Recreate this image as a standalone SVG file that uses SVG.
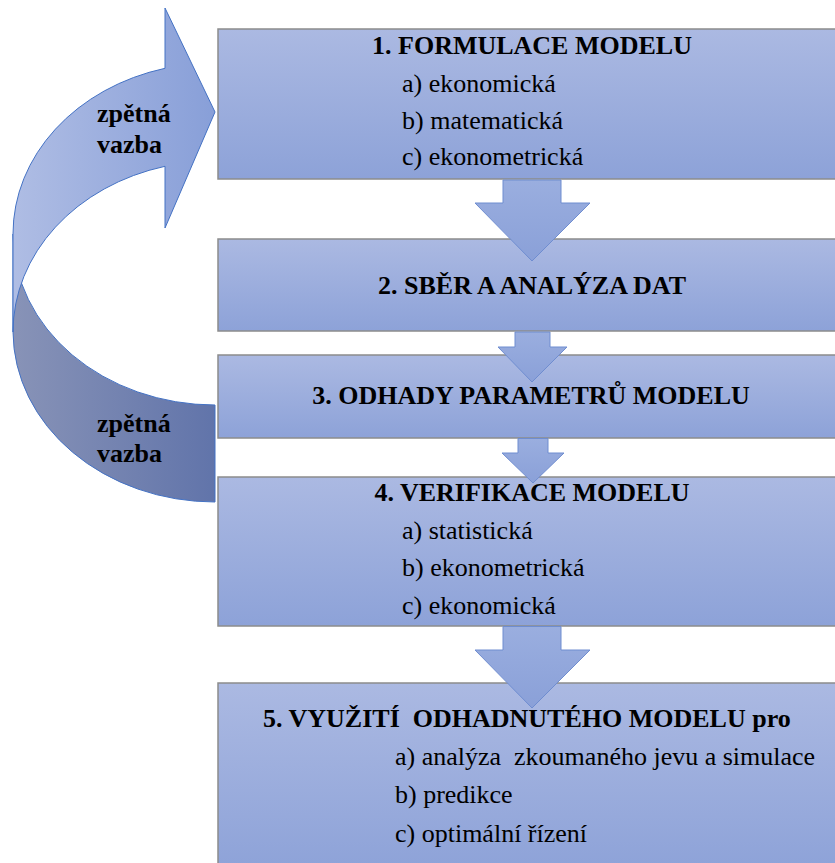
<svg xmlns="http://www.w3.org/2000/svg" width="835" height="863" viewBox="0 0 835 863">
<defs>
  <linearGradient id="gBox" x1="0" y1="0" x2="0" y2="1">
    <stop offset="0" stop-color="#abb9e2"/>
    <stop offset="1" stop-color="#8da2d8"/>
  </linearGradient>
  <linearGradient id="gArrow" x1="0" y1="0" x2="0" y2="1">
    <stop offset="0" stop-color="#9aaedf"/>
    <stop offset="1" stop-color="#8aa0d8"/>
  </linearGradient>
  <linearGradient id="gFront" gradientUnits="userSpaceOnUse" x1="13" y1="0" x2="215" y2="0">
    <stop offset="0" stop-color="#afbde4"/>
    <stop offset="1" stop-color="#889fd8"/>
  </linearGradient>
  <linearGradient id="gBack" gradientUnits="userSpaceOnUse" x1="13" y1="0" x2="215" y2="0">
    <stop offset="0" stop-color="#8893b7"/>
    <stop offset="1" stop-color="#6174aa"/>
  </linearGradient>
  <style>
    .box { fill: url(#gBox); stroke: #8c8c8c; stroke-width: 1.5; }
    .arr { fill: url(#gArrow); stroke: #6f8dd0; stroke-width: 1; }
    text { font-family: 'Liberation Serif', 'Times New Roman', Times, 'Nimbus Roman', Tinos, 'Noto Serif', 'DejaVu Serif', serif; font-size: 26px; fill: #000; }
    .head, .fb { font-weight: bold; }
  </style>
</defs>

<g id="feedback">
  <path d="M13,234 A202,171 0 0,0 215,405 L215,502 A202,171 0 0,1 13,332 Z" fill="url(#gBack)" stroke="#4472c4" stroke-width="1"/>
  <path d="M165,68.3 A202,171 0 0,0 13,234 L13,332 A202,171 0 0,1 165,166.3 L165,228 L215,112 L165,8 Z" fill="url(#gFront)" stroke="#4472c4" stroke-width="1"/>
  <text class="fb" x="97" y="122">zpětná</text>
  <text class="fb" x="97" y="153">vazba</text>
  <text class="fb" x="97" y="432">zpětná</text>
  <text class="fb" x="97" y="462">vazba</text>
</g>

<g id="node1">
  <rect class="box" x="218" y="29" width="630" height="150"/>
  <text class="head" x="532" y="54" text-anchor="middle">1. FORMULACE MODELU</text>
  <text class="item" x="402" y="92">a) ekonomická</text>
  <text class="item" x="402" y="128.5">b) matematická</text>
  <text class="item" x="402" y="165">c) ekonometrická</text>
</g>

<g id="node2">
  <rect class="box" x="218" y="239" width="630" height="92"/>
  <text class="head" x="532" y="294" text-anchor="middle">2. SBĚR A ANALÝZA DAT</text>
</g>

<g id="node3">
  <rect class="box" x="218" y="355" width="630" height="83"/>
  <text class="head" x="531" y="404" text-anchor="middle">3. ODHADY PARAMETRŮ MODELU</text>
</g>

<g id="node4">
  <rect class="box" x="218" y="477" width="630" height="149"/>
  <text class="head" x="532" y="501" text-anchor="middle">4. VERIFIKACE MODELU</text>
  <text class="item" x="402" y="539">a) statistická</text>
  <text class="item" x="402" y="576">b) ekonometrická</text>
  <text class="item" x="402" y="614">c) ekonomická</text>
</g>

<g id="node5">
  <rect class="box" x="218" y="683" width="630" height="190"/>
  <text class="head" x="263" y="727" xml:space="preserve">5. VYUŽITÍ  ODHADNUTÉHO MODELU pro</text>
  <text class="item" x="395" y="765" xml:space="preserve">a) analýza  zkoumaného jevu a simulace</text>
  <text class="item" x="395" y="803">b) predikce</text>
  <text class="item" x="395" y="842">c) optimální řízení</text>
</g>

<g id="connectors">
  <path class="arr" d="M503,180 L561,180 L561,203 L590,203 L532,261 L475,203 L503,203 Z"/>
  <path class="arr" d="M515,332 L550,332 L550,347 L567,347 L532,382 L498,347 L515,347 Z"/>
  <path class="arr" d="M518,438.5 L548,438.5 L548,453 L564,453 L533,483 L502,453 L518,453 Z"/>
  <path class="arr" d="M503,626.5 L561,626.5 L561,650 L590,650 L532,708 L475,650 L503,650 Z"/>
</g>
</svg>
